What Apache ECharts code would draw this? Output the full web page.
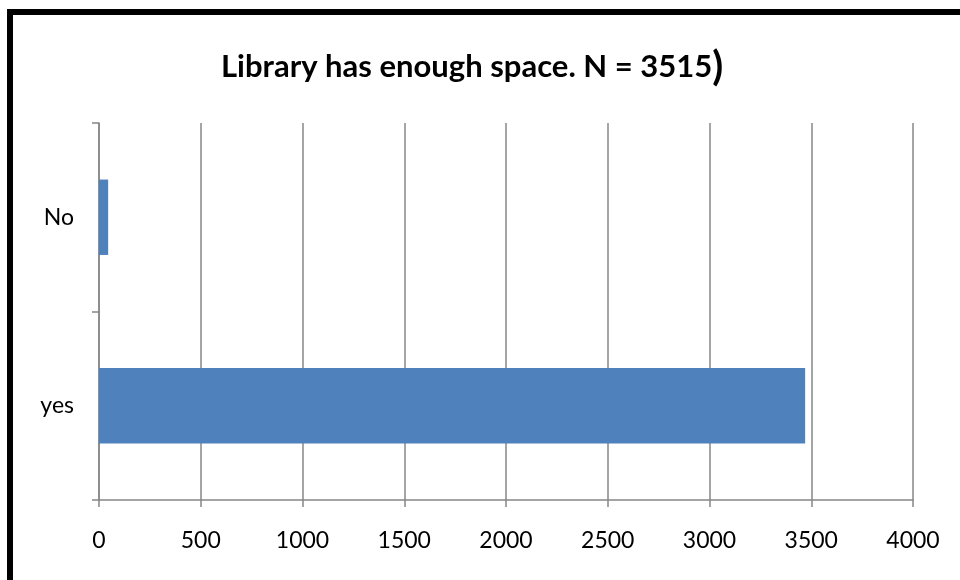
<!DOCTYPE html>
<html>
<head>
<meta charset="utf-8">
<script src="https://cdn.jsdelivr.net/npm/echarts@6/dist/echarts.min.js"></script>
<style>
html, body { margin: 0; padding: 0; background: #fff; }
#chart { width: 960px; height: 580px; }
</style>
</head>
<body>
<div id="chart"></div>
<script>
// answers, bottom to top
var categories = ["yes", "No"];
var counts = [3470, 45];
var xTicks = { min: 0, max: 4000, interval: 500 };

var gray = "#878787";

var chart = echarts.init(document.getElementById("chart"), null, { renderer: "canvas" });

chart.setOption({
	animation: false,
	title: {
		text: "{t|Library has enough space. N = 3515}{p|)}",
		left: 216,
		top: 42,
		textStyle: {
			rich: {
				t: { fontFamily: "Lato", fontWeight: "bold", fontSize: 31, color: "#000" },
				p: { fontFamily: "Lato", fontWeight: "bold", fontSize: 40, color: "#000" }
			}
		}
	},
	graphic: [
		{
			type: "rect",
			shape: { x: 10, y: 12, width: 1000, height: 640 },
			style: { fill: "none", stroke: "#000", lineWidth: 6 },
			silent: true
		}
	],
	grid: { left: 99, right: 47, top: 123, bottom: 80 },
	xAxis: {
		type: "value",
		min: xTicks.min,
		max: xTicks.max,
		interval: xTicks.interval,
		axisLine: { show: true, lineStyle: { color: gray, width: 1.5 } },
		axisTick: { show: true, length: 7, lineStyle: { color: gray, width: 1.5 } },
		splitLine: { show: true, lineStyle: { color: gray, width: 1.5 } },
		axisLabel: {
			color: "#000", fontFamily: "Lato", fontSize: 23, margin: 29,
			formatter: function (v) { return String(v); }
		}
	},
	yAxis: {
		type: "category",
		data: categories,
		axisLine: { show: true, lineStyle: { color: gray, width: 1.5 } },
		axisTick: { show: true, length: 7, lineStyle: { color: gray, width: 1.5 } },
		axisLabel: { color: "#000", fontFamily: "Lato", fontSize: 23, margin: 25 }
	},
	series: [
		{
			type: "bar",
			data: counts,
			barWidth: "40%",
			itemStyle: { color: "#4F81BD" }
		}
	]
});
</script>
</body>
</html>
